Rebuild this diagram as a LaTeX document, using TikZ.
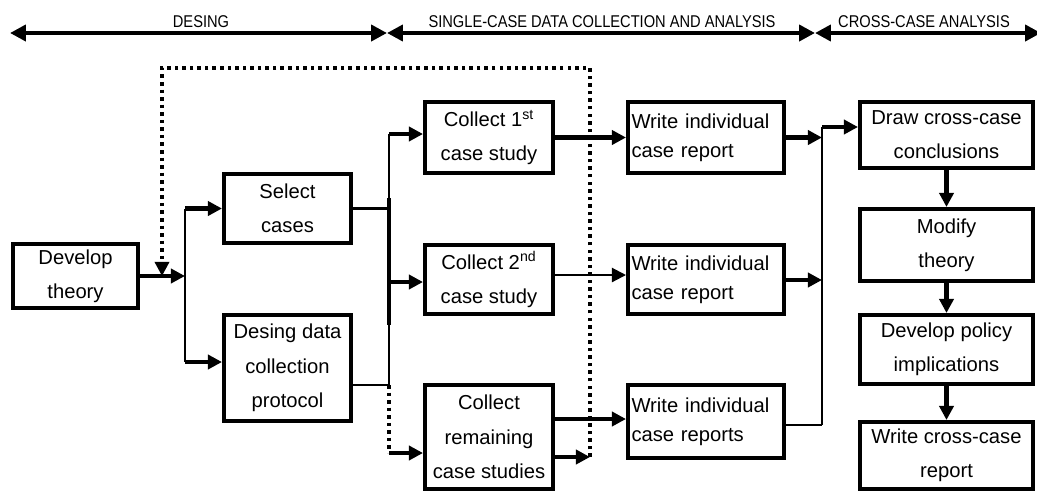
\documentclass[tikz,border=0pt]{standalone}
\usepackage{fontspec}
\setmainfont{Liberation Sans}
\usetikzlibrary{arrows.meta}
\begin{document}
\begin{tikzpicture}[x=0.02cm,y=-0.02cm,
  box/.style={draw,line width=2.3pt,inner sep=0pt,align=center,font=\fontsize{11.5}{19.5}\selectfont},
  wbox/.style={box,align=left,text width=2.98cm,font=\fontsize{11.5}{16.5}\selectfont},
  thk/.style={line width=2.3pt},
  thn/.style={line width=1.2pt},
  arr/.style={-{Triangle[length=8pt,width=8pt]}},
  tarr/.style={line width=2.3pt,{Triangle[length=9pt,width=9pt]}-{Triangle[length=9pt,width=9pt]}},
  dotl/.style={line width=1.8pt,dash pattern=on 2pt off 2.3pt},
  lbl/.style={font=\fontsize{9.7}{10}\selectfont,anchor=base,inner sep=0pt}]
\useasboundingbox (0,0) rectangle (1037,491);
\fill[white] (0,0) rectangle (1037,491);
\clip (0,0) rectangle (1037,491);

% top phase arrows
\coordinate (t0) at (10,33);
\coordinate (t1) at (387,33);
\coordinate (t2) at (815,33);
\coordinate (t3) at (1041,33);
\draw[tarr] (t0) -- (t1);
\draw[tarr] (t1) -- (t2);
\draw[tarr] (t2) -- (t3);
\node[lbl] (l1) at (201,27) {\scalebox{0.86}[1]{DESING}};
\node[lbl] (l2) at (602,27) {\scalebox{0.86}[1]{SINGLE-CASE DATA COLLECTION AND ANALYSIS}};
\node[lbl] (l3) at (924,27) {\scalebox{0.86}[1]{CROSS-CASE ANALYSIS}};

% boxes
\node[box,minimum width=2.5cm,minimum height=1.28cm] (dev) at (75.5,276) {Develop\\theory};
\node[box,minimum width=2.54cm,minimum height=1.38cm] (sel) at (287.5,208.5) {Select\\cases};
\node[box,minimum width=2.54cm,minimum height=2.12cm] (des) at (287.5,368) {Desing data\\collection\\protocol};
\node[box,minimum width=2.56cm,minimum height=1.42cm] (c1) at (489,137.5) {Collect 1\textsuperscript{st}\\case study};
\node[box,minimum width=2.56cm,minimum height=1.38cm] (c2) at (489,279.5) {Collect 2\textsuperscript{nd}\\case study};
\node[box,minimum width=2.56cm,minimum height=2.08cm] (c3) at (489,437) {Collect\\remaining\\case studies};
\node[wbox,minimum width=3.12cm,minimum height=1.42cm] (w1) at (706,137.5) {Write individual\\case report};
\node[wbox,minimum width=3.12cm,minimum height=1.38cm] (w2) at (706,279.5) {Write individual\\case report};
\node[wbox,minimum width=3.12cm,minimum height=1.46cm] (w3) at (706,421.5) {Write individual\\case reports};
\node[box,minimum width=3.46cm,minimum height=1.32cm] (r1) at (946.5,135) {Draw cross-case\\conclusions};
\node[box,minimum width=3.46cm,minimum height=1.44cm] (r2) at (946.5,245) {Modify\\theory};
\node[box,minimum width=3.46cm,minimum height=1.38cm] (r3) at (946.5,349.5) {Develop policy\\implications};
\node[box,minimum width=3.46cm,minimum height=1.34cm] (r4) at (946.5,455.5) {Write cross-case\\report};

% junction 1
\coordinate (j1) at (185,276);
\coordinate (j1b) at (185,362);
\draw[thk,arr] (dev.east) -- (j1);
\draw[thn] (j1 |- sel.west) -- (j1b);
\draw[thk,arr] (j1 |- sel.west) -- (sel.west);
\draw[thk,arr] (j1b) -- (j1b -| des.west);

% feedback loop
\coordinate (fb0) at (590,457);
\coordinate (fbt) at (590,68);
\coordinate (fbl) at (162,68);
\draw[dotl,arr] (fb0) -- (fbt) -- (fbl) -- (fbl |- dev.east);
\draw[thk,arr] (c3.east |- fb0) -- (fb0);

% junction 2
\coordinate (j2t) at (389,134);
\coordinate (j2u) at (389,198);
\coordinate (j2m) at (389,282);
\coordinate (j2l) at (389,325);
\coordinate (j2b) at (389,385);
\coordinate (j2d) at (389,453);
\draw[thn] (sel.east) -- (sel.east -| j2t);
\draw[thn] (j2t) -- (j2b);
\draw[thk] (j2u) -- (j2l);
\draw[thn] (j2b -| des.east) -- (j2b);
\draw[thk,arr] (j2t) -- (j2t -| c1.west);
\draw[thk,arr] (j2m) -- (j2m -| c2.west);
\draw[dotl] (j2b) -- (j2d);
\draw[thk,arr] (j2d) -- (j2d -| c3.west);

% collect -> write
\coordinate (y2) at (600,275);
\coordinate (y3) at (600,419);
\draw[thk,arr] (c1.east) -- (w1.west);
\draw[thn,arr] (y2 -| c2.east) -- (y2 -| w2.west);
\draw[thk,arr] (y3 -| c3.east) -- (y3 -| w3.west);

% junction 3
\coordinate (j3t) at (822,127);
\coordinate (j3m) at (822,280);
\coordinate (j3b) at (822,425);
\draw[thn] (j3t) -- (j3b);
\draw[thk,arr] (w1.east) -- (w1.east -| j3t);
\draw[thk,arr] (j3m -| w2.east) -- (j3m);
\draw[thn] (j3b -| w3.east) -- (j3b);
\draw[thk,arr] (j3t) -- (j3t -| r1.west);

% right column
\draw[thk,arr] (r1.south) -- (r2.north);
\draw[thk,arr] (r2.south) -- (r3.north);
\draw[thk,arr] (r3.south) -- (r4.north);
\end{tikzpicture}
\end{document}
